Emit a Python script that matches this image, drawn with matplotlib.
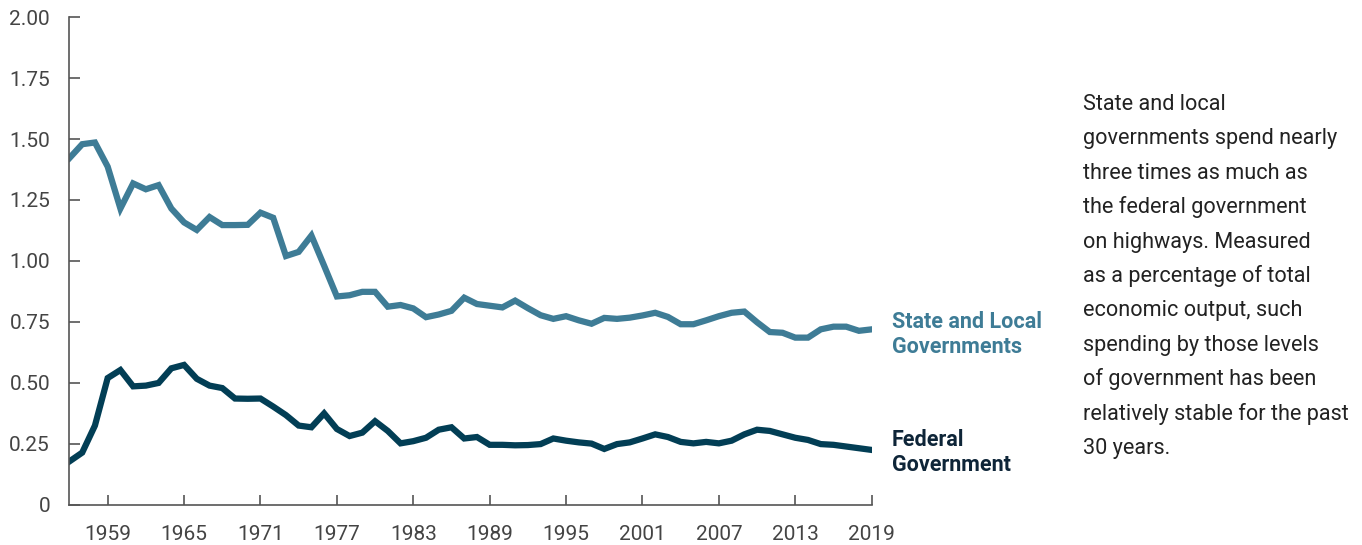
import numpy as np
import matplotlib
matplotlib.use("Agg")
import matplotlib.pyplot as plt

plt.rcParams['font.family'] = ['Roboto', 'DejaVu Sans']

# years 1956-2019, spending as % of GDP
years = np.arange(1956, 2020)
state_local = [1.422, 1.479, 1.486, 1.387, 1.215, 1.318, 1.294, 1.311, 1.215, 1.158,
               1.127, 1.180, 1.147, 1.147, 1.148, 1.198, 1.177, 1.020, 1.037, 1.104,
               0.980, 0.854, 0.859, 0.873, 0.873, 0.812, 0.819, 0.805, 0.769, 0.780,
               0.795, 0.849, 0.823, 0.816, 0.809, 0.837, 0.806, 0.777, 0.762, 0.773,
               0.756, 0.742, 0.766, 0.762, 0.767, 0.776, 0.787, 0.770, 0.740, 0.740,
               0.756, 0.773, 0.787, 0.792, 0.748, 0.708, 0.705, 0.685, 0.685, 0.719,
               0.730, 0.730, 0.713, 0.719]
federal = [0.177, 0.213, 0.324, 0.519, 0.552, 0.485, 0.488, 0.499, 0.559, 0.573,
           0.516, 0.488, 0.478, 0.435, 0.434, 0.435, 0.402, 0.367, 0.324, 0.317,
           0.374, 0.310, 0.281, 0.295, 0.342, 0.302, 0.251, 0.260, 0.274, 0.307,
           0.317, 0.271, 0.277, 0.245, 0.245, 0.243, 0.244, 0.248, 0.271, 0.262,
           0.255, 0.250, 0.228, 0.248, 0.255, 0.271, 0.288, 0.277, 0.257, 0.251,
           0.257, 0.251, 0.262, 0.288, 0.307, 0.302, 0.288, 0.274, 0.265, 0.248,
           0.245, 0.238, 0.231, 0.224]

xticks = [1959, 1965, 1971, 1977, 1983, 1989, 1995, 2001, 2007, 2013, 2019]
yticks = [0, 0.25, 0.5, 0.75, 1.0, 1.25, 1.5, 1.75, 2.0]
ylabels = ["0", "0.25", "0.50", "0.75", "1.00", "1.25", "1.50", "1.75", "2.00"]

note = ["State and local", "governments spend nearly", "three times as much as",
        "the federal government", "on highways. Measured", "as a percentage of total",
        "economic output, such", "spending by those levels", "of government has been",
        "relatively stable for the past", "30 years."]

c_sl = "#3e7c96"
c_fed = "#023e55"
grey = "#555555"

fig = plt.figure(figsize=(13.62, 5.45), dpi=100)
ax = fig.add_axes([0.051, 0.0743, 0.589, 0.894])

ax.plot(years, state_local, color=c_sl, lw=4.5, solid_joinstyle='miter')
ax.plot(years, federal, color=c_fed, lw=4.5, solid_joinstyle='miter')

ax.set_xlim(1956, 2019)
ax.set_ylim(0, 2.0)
ax.set_xticks(xticks)
ax.set_yticks(yticks)
ax.set_yticklabels(ylabels)
for s in ["top", "right"]:
    ax.spines[s].set_visible(False)
for s in ["left", "bottom"]:
    ax.spines[s].set_color(grey)
    ax.spines[s].set_linewidth(1.2)
ax.tick_params(axis='y', direction='in', length=8, width=1.2, color=grey,
               labelsize=15, labelcolor="#444444", pad=14)
ax.tick_params(axis='x', direction='in', length=7, width=1.2, color=grey,
               labelsize=15, labelcolor="#444444", pad=15)

# series labels (baseline given for the last line)
fig.text(892/1362, 1 - 353/545, "State and Local\nGovernments", color=c_sl,
         fontsize=15.5, fontweight='bold', va='baseline', linespacing=1.15)
fig.text(892/1362, 1 - 471/545, "Federal\nGovernment", color="#0e2538",
         fontsize=15.5, fontweight='bold', va='baseline', linespacing=1.15)

for i, line in enumerate(note):
    fig.text(1083/1362, 1 - (110 + i*34.4)/545, line, color="#222222",
             fontsize=15.6, va='baseline')

fig.savefig("out.png", dpi=100)
